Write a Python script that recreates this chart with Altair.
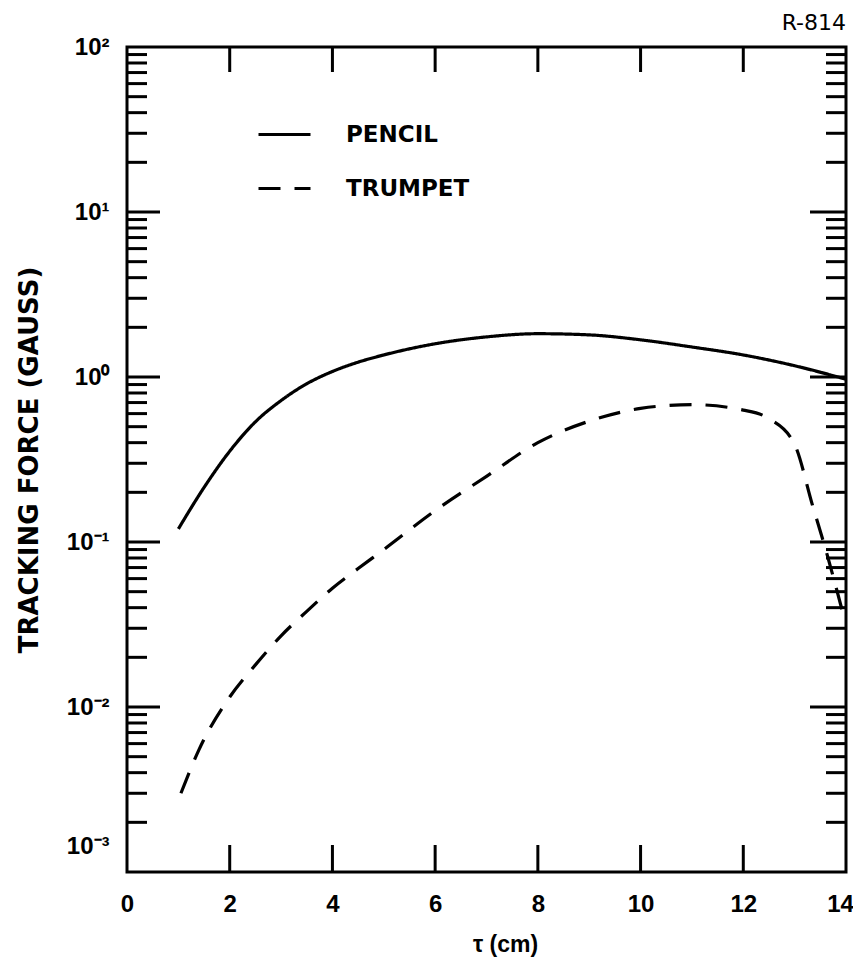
import altair as alt
import pandas as pd

# ---- data ----
series_names = ["PENCIL", "TRUMPET"]

pencil_t = [1.0, 1.5, 2.0, 2.5, 3.0, 3.5, 4.0, 4.5, 5.0, 6.0, 7.0, 8.0, 9.0, 10.0, 11.0, 12.0, 13.0, 14.0]
pencil_f = [0.12, 0.214, 0.355, 0.535, 0.72, 0.91, 1.08, 1.23, 1.36, 1.59, 1.75, 1.83, 1.80, 1.68, 1.52, 1.36, 1.17, 0.97]

trumpet_t = [1.05, 1.4, 2.0, 2.5, 3.0, 3.5, 4.0, 4.5, 5.0, 6.0, 7.0, 8.0, 9.0, 10.0, 11.0, 12.0, 12.5, 13.0,
             13.35, 13.6, 13.95]
trumpet_f = [0.003, 0.0055, 0.0115, 0.018, 0.027, 0.038, 0.0525, 0.069, 0.09, 0.155, 0.25, 0.40, 0.54, 0.645,
             0.68, 0.63, 0.56, 0.39, 0.166, 0.091, 0.036]

x_label_values = [0, 2, 4, 6, 8, 10, 12, 14]
x_inner_ticks = [2, 4, 6, 8, 10, 12]

y_label_values = [1e-3, 1e-2, 1e-1, 1e0, 1e1, 1e2]
y_label_texts = ["10⁻³", "10⁻²", "10⁻¹", "10⁰", "10¹", "10²"]
y_major_inner = [1e-2, 1e-1, 1e0, 1e1]
y_minor_mantissas = [2, 3, 4, 5, 6, 7, 8, 9]
y_minor_decades = [1e-3, 1e-2, 1e-1, 1e0, 1e1]

x_title = "τ (cm)"
y_title = "TRACKING FORCE (GAUSS)"
corner_text = "R-814"

# ---- tables ----
df = pd.concat([
    pd.DataFrame({"series": series_names[0], "t": pencil_t, "f": pencil_f}),
    pd.DataFrame({"series": series_names[1], "t": trumpet_t, "f": trumpet_f}),
], ignore_index=True)
df["order"] = range(len(df))

xt_df = pd.DataFrame({"t": x_inner_ticks})
ymaj_df = pd.DataFrame({"f": y_major_inner})
ymin_df = pd.DataFrame({"f": [m * d for d in y_minor_decades for m in y_minor_mantissas]})

# label expression built from the label arrays
pairs = list(zip(y_label_values, y_label_texts))[::-1]
expr = ""
for v, txt in pairs[:-1]:
    expr += f"datum.value > {v / 2} ? '{txt}' : "
expr += f"'{pairs[-1][1]}'"

W, H = 719, 825
LAB_FONT = "Liberation Sans"
TXT_FONT = "DejaVu Sans"

x_scale = alt.Scale(domain=[0, 14], nice=False, zero=False)
y_scale = alt.Scale(type="log", domain=[1e-3, 1e2], nice=False)

x_axis = alt.Axis(
    values=x_label_values, format="d", title=x_title, domain=False, ticks=False, grid=False,
    labelFont=LAB_FONT, labelFontSize=24, labelFontWeight="bold", labelColor="black",
    labelPadding=20, labelFlush=False,
    labelOffset={"condition": {"test": "datum.value > 13", "value": -6}, "value": 0},
    titleFont=LAB_FONT, titleFontSize=23, titleFontWeight="bold", titleColor="black",
    titleX=378, titleY=61, titleAlign="center", titleBaseline="top",
)
y_axis = alt.Axis(
    values=y_label_values, labelExpr=expr, title=y_title, domain=False, ticks=False, grid=False,
    labelFont=LAB_FONT, labelFontSize=24, labelFontWeight="bold", labelColor="black",
    labelPadding=18, labelFlush=False,
    labelOffset={"condition": {"test": "datum.value < 0.002", "value": -26}, "value": 0},
    titleFont=TXT_FONT, titleFontSize=26, titleFontWeight="bold", titleColor="black",
    titleAngle=-90, titleX=-98, titleY=H / 2, titleAlign="center", titleBaseline="middle",
)

X = alt.X("t:Q", scale=x_scale, axis=x_axis)
Y = alt.Y("f:Q", scale=y_scale, axis=y_axis)

lines = alt.Chart(df).mark_line(color="black", strokeWidth=3.2, interpolate="monotone").encode(
    x=X,
    y=Y,
    order="order:Q",
    strokeDash=alt.StrokeDash(
        "series:N",
        scale=alt.Scale(domain=series_names, range=[[1, 0], [22, 14]]),
        legend=alt.Legend(
            title=None, orient="none", legendX=130, legendY=60, padding=0,
            symbolType="stroke", symbolSize=2704, symbolStrokeWidth=3, symbolStrokeColor="black",
            labelFont=TXT_FONT, labelFontSize=23, labelFontWeight="bold", labelColor="black",
            labelOffset=34, rowPadding=14,
        ),
    ),
)

tick_w = 3
xt_top = alt.Chart(xt_df).mark_rule(color="black", strokeWidth=tick_w).encode(
    x=X, y=alt.value(0), y2=alt.value(25))
xt_bot = alt.Chart(xt_df).mark_rule(color="black", strokeWidth=tick_w).encode(
    x=X, y=alt.value(H), y2=alt.value(H - 27))
ymaj_l = alt.Chart(ymaj_df).mark_rule(color="black", strokeWidth=tick_w).encode(
    y=Y, x=alt.value(0), x2=alt.value(33))
ymaj_r = alt.Chart(ymaj_df).mark_rule(color="black", strokeWidth=tick_w).encode(
    y=Y, x=alt.value(W), x2=alt.value(W - 36))
ymin_l = alt.Chart(ymin_df).mark_rule(color="black", strokeWidth=tick_w).encode(
    y=Y, x=alt.value(0), x2=alt.value(20))
ymin_r = alt.Chart(ymin_df).mark_rule(color="black", strokeWidth=tick_w).encode(
    y=Y, x=alt.value(W), x2=alt.value(W - 20))

chart = alt.layer(lines, xt_top, xt_bot, ymaj_l, ymaj_r, ymin_l, ymin_r).properties(
    width=W, height=H,
    autosize=alt.AutoSizeParams(type="none"),
    padding={"left": 119, "top": 39, "right": 7, "bottom": 86},
    title=alt.TitleParams(corner_text, anchor="end", frame="group", font=TXT_FONT,
                          fontSize=22, fontWeight="normal", color="black", offset=0),
).configure(
    background="white",
    view=alt.ViewConfig(stroke="black", strokeWidth=3),
)

chart.save("out.html", embed_options={"renderer": "svg", "actions": False})
